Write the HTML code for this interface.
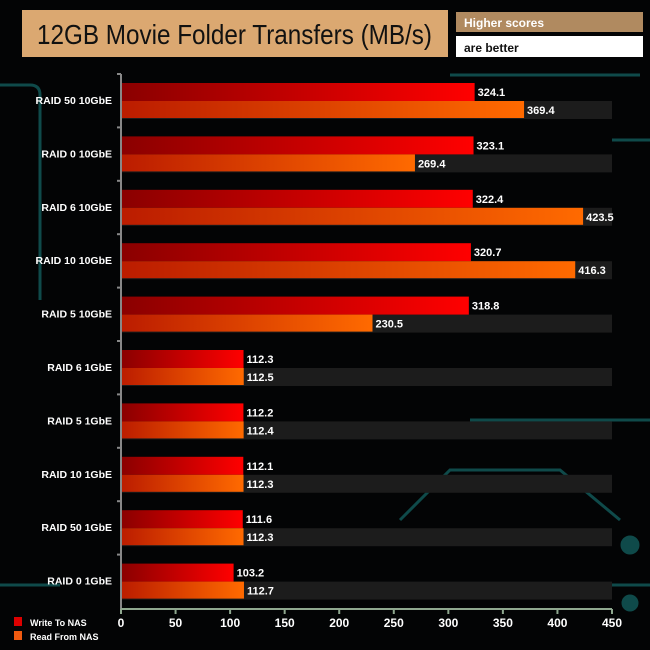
<!DOCTYPE html>
<html><head><meta charset="utf-8"><style>
body{margin:0;background:#000;}
#c{position:relative;width:650px;height:650px;background:#030405;overflow:hidden;font-family:"Liberation Sans",sans-serif;}
</style></head><body>
<div id="c">
<svg id="s" width="650" height="650" xmlns="http://www.w3.org/2000/svg">
<defs>
<linearGradient id="gw" x1="0" x2="1"><stop offset="0" stop-color="#8a0000"/><stop offset="1" stop-color="#ff0000"/></linearGradient>
<linearGradient id="gr" x1="0" x2="1"><stop offset="0" stop-color="#bb1c00"/><stop offset="1" stop-color="#ff6a00"/></linearGradient>
</defs>
<g stroke="#0f4a4a" stroke-width="3" fill="none">
<path d="M0 85 H30 Q40 85 40 95 V300"/><path d="M450 75 H640"/><path d="M612 140 H650"/><path d="M0 585 H60"/><path d="M240 585 H650"/><path d="M470 420 H650"/><path d="M400 520 L450 470 H560 L620 520"/>
<circle cx="630" cy="545" r="8" fill="#0f4a4a"/><circle cx="630" cy="603" r="7" fill="#0f4a4a"/>
</g>
<rect x="22" y="10" width="426" height="47" fill="#dba871"/>
<text x="37" y="44" font-size="28" textLength="395" lengthAdjust="spacingAndGlyphs" fill="#111">12GB Movie Folder Transfers (MB/s)</text>
<rect x="456" y="12" width="187" height="20" fill="#b08a60"/>
<text x="464" y="27" font-size="12" font-weight="bold" fill="#fff">Higher scores</text>
<rect x="456" y="36" width="187" height="21" fill="#fff"/>
<text x="464" y="52" font-size="12" font-weight="bold" fill="#111">are better</text>
<g id="plot"></g>
<rect x="14" y="617" width="8" height="9" fill="#d00"/>
<text x="30" y="626" font-size="9" font-weight="bold" fill="#fff">Write To NAS</text>
<rect x="14" y="631" width="8" height="9" fill="#f05a10"/>
<text x="30" y="640" font-size="9" font-weight="bold" fill="#fff">Read From NAS</text>
</svg>
</div>
<script>
const categories=["RAID 50 10GbE","RAID 0 10GbE","RAID 6 10GbE","RAID 10 10GbE","RAID 5 10GbE","RAID 6 1GbE","RAID 5 1GbE","RAID 10 1GbE","RAID 50 1GbE","RAID 0 1GbE"];
const writeVals=[324.1,323.1,322.4,320.7,318.8,112.3,112.2,112.1,111.6,103.2];
const readVals=[369.4,269.4,423.5,416.3,230.5,112.5,112.4,112.3,112.3,112.7];
const ticks=[0,50,100,150,200,250,300,350,400,450];
const X0=121,X1=612,MAX=450,Y0=74,PITCH=53.4;
const xs=v=>X0+(X1-X0)*v/MAX;
const g=document.getElementById('plot');
const NS="http://www.w3.org/2000/svg";
function mk(t,a){const e=document.createElementNS(NS,t);for(const k in a)e.setAttribute(k,a[k]);g.appendChild(e);return e;}
categories.forEach((c,i)=>{
 const top=Y0+i*PITCH;
 const band=mk('rect',{x:X0,y:top+27,width:X1-X0,height:18,fill:'#1c1c1c'});
 
 
 const w=mk('rect',{x:X0,y:top+9,width:xs(writeVals[i])-X0,height:18,fill:'url(#gw)'});
 
 
 const r=mk('rect',{x:X0,y:top+27,width:xs(readVals[i])-X0,height:17,fill:'url(#gr)'});
 
 
 const wl=mk('text',{x:xs(writeVals[i])+3,y:top+22,'font-size':11,'font-weight':'bold',fill:'#fff'});wl.textContent=writeVals[i].toFixed(1);
 
 
 const rl=mk('text',{x:xs(readVals[i])+3,y:top+40,'font-size':11,'font-weight':'bold',fill:'#fff'});rl.textContent=readVals[i].toFixed(1);
 
 
 const cl=mk('text',{x:112,y:top+30,'text-anchor':'end','font-size':10.5,'font-weight':'bold',fill:'#fff'});cl.textContent=c;
 
 
 const tk=mk('line',{x1:X0-4,x2:X0,y1:top,y2:top,stroke:'#888','stroke-width':2});
 
 
});
const ya=mk('line',{x1:X0,x2:X0,y1:Y0,y2:609,stroke:'#888','stroke-width':2});


const xa=mk('line',{x1:X0,x2:X1,y1:609,y2:609,stroke:'#8fa88f','stroke-width':2});


ticks.forEach(t=>{
 const l=mk('line',{x1:xs(t),x2:xs(t),y1:609,y2:614,stroke:'#8fa88f','stroke-width':2});
 
 
 const tx=mk('text',{x:xs(t),y:627,'text-anchor':'middle','font-size':12,'font-weight':'bold',fill:'#fff'});tx.textContent=t;
 
 
});
</script>
</body></html>
